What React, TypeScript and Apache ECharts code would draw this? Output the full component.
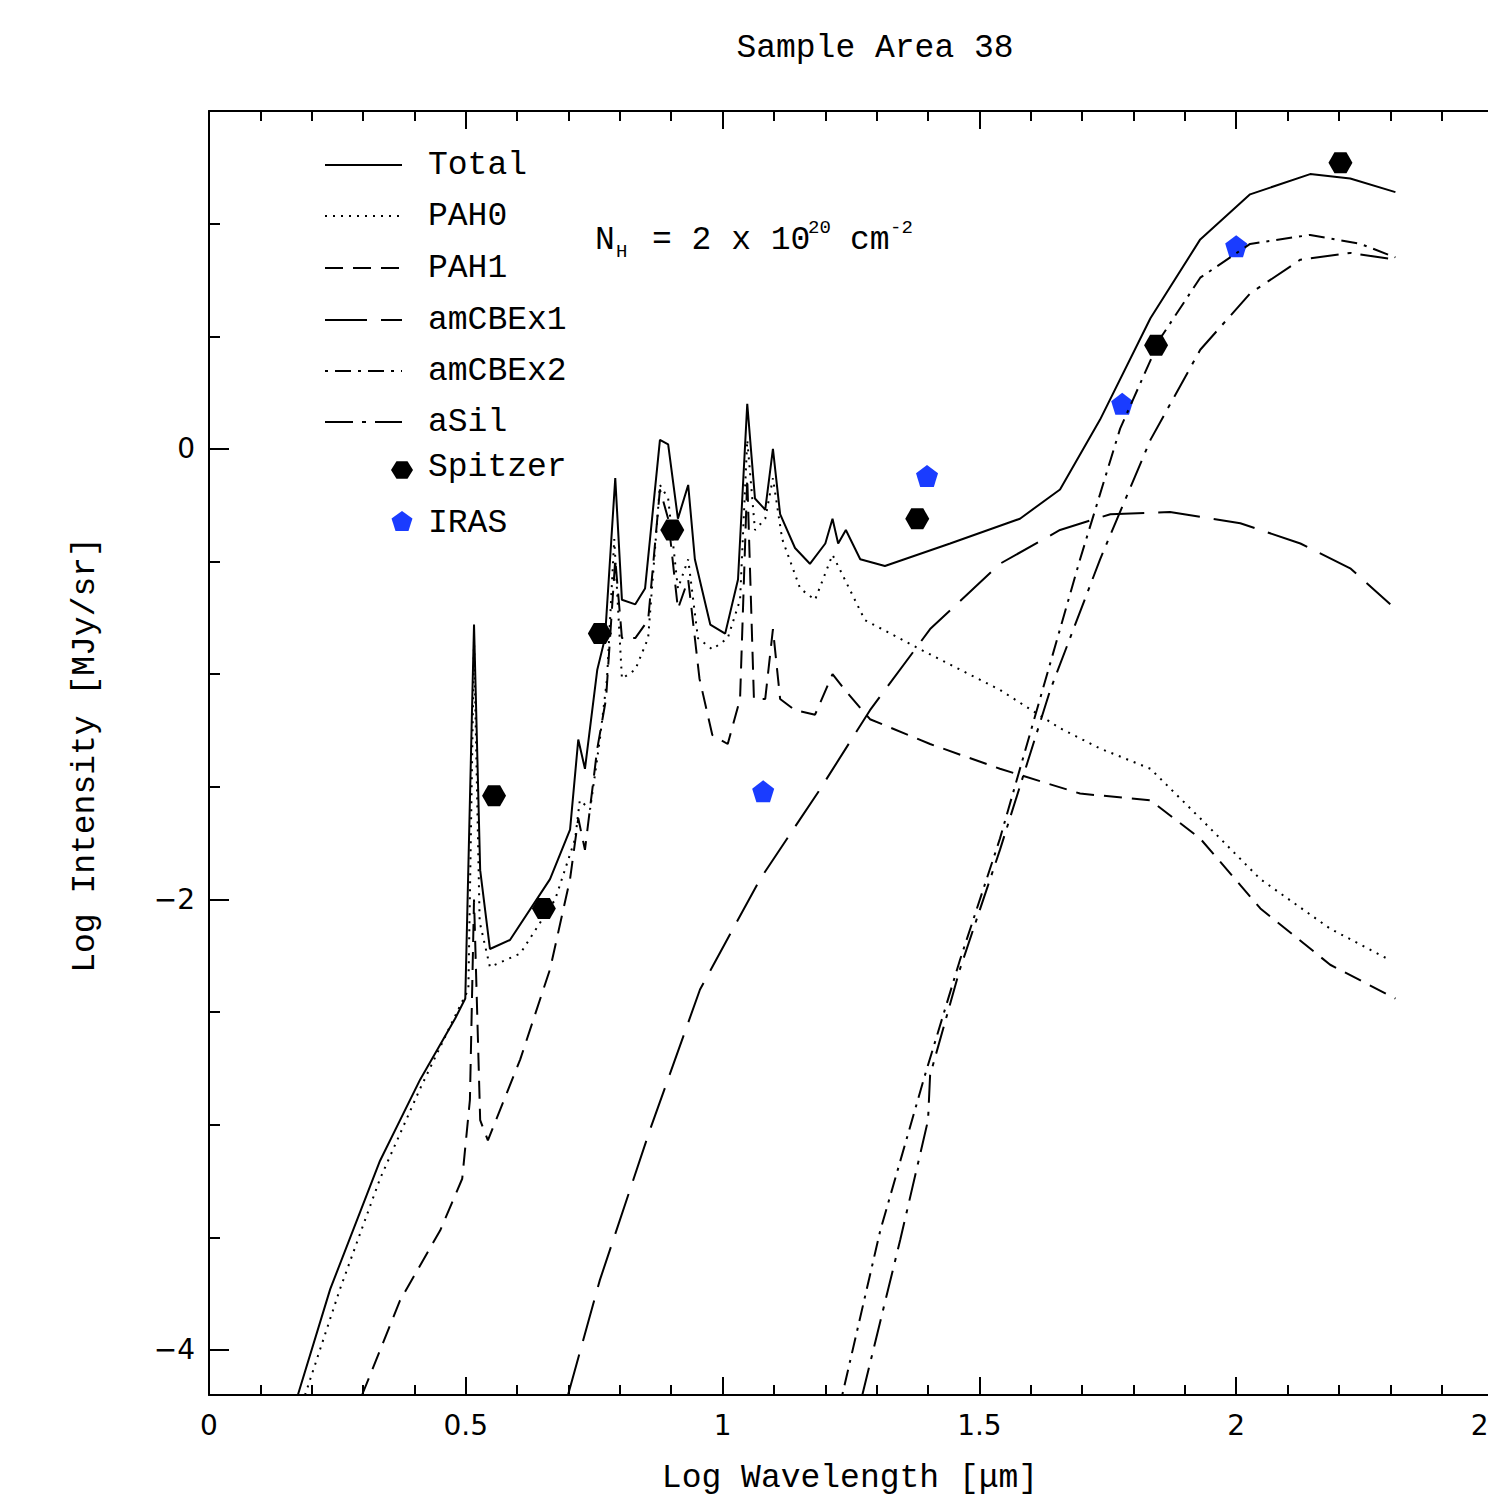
import React, { useRef, useEffect } from "react";
import * as echarts from "echarts";

// [log wavelength, log intensity]
const total = [
  [0.173, -4.2], [0.236, -3.73], [0.333, -3.16], [0.411, -2.8], [0.479, -2.53], [0.499, -2.44],
  [0.516, -0.78], [0.528, -1.87], [0.547, -2.22], [0.586, -2.18], [0.664, -1.91], [0.703, -1.69],
  [0.719, -1.29], [0.732, -1.42], [0.756, -0.98], [0.771, -0.84], [0.791, -0.13], [0.804, -0.67],
  [0.83, -0.69], [0.849, -0.62], [0.878, 0.04], [0.894, 0.02], [0.913, -0.31], [0.933, -0.16],
  [0.946, -0.49], [0.976, -0.78], [1.005, -0.82], [1.03, -0.58], [1.048, 0.2], [1.063, -0.22],
  [1.083, -0.27], [1.098, 0.0], [1.112, -0.29], [1.141, -0.44], [1.17, -0.51], [1.2, -0.42],
  [1.214, -0.31], [1.225, -0.42], [1.24, -0.36], [1.268, -0.49], [1.316, -0.52], [1.443, -0.42],
  [1.579, -0.31], [1.657, -0.18], [1.735, 0.13], [1.833, 0.58], [1.93, 0.93], [2.027, 1.13],
  [2.144, 1.22], [2.222, 1.2], [2.31, 1.14],
];
const pah0 = [
  [0.187, -4.2], [0.255, -3.73], [0.333, -3.24], [0.411, -2.84], [0.485, -2.49], [0.505, -2.4],
  [0.516, -0.85], [0.527, -2.1], [0.547, -2.3], [0.606, -2.24], [0.674, -2.0], [0.713, -1.73],
  [0.722, -1.56], [0.742, -1.6], [0.761, -1.29], [0.775, -1.02], [0.789, -0.4], [0.804, -1.02],
  [0.83, -0.98], [0.855, -0.84], [0.878, -0.16], [0.894, -0.22], [0.913, -0.62], [0.933, -0.49],
  [0.952, -0.84], [0.98, -0.89], [1.01, -0.84], [1.034, -0.67], [1.048, 0.04], [1.063, -0.36],
  [1.083, -0.31], [1.098, -0.13], [1.116, -0.4], [1.151, -0.62], [1.18, -0.67], [1.214, -0.47],
  [1.238, -0.58], [1.277, -0.76], [1.385, -0.89], [1.54, -1.07], [1.657, -1.24], [1.735, -1.33],
  [1.833, -1.42], [1.93, -1.64], [2.047, -1.91], [2.183, -2.13], [2.3, -2.27],
];
const pah1 = [
  [0.298, -4.2], [0.372, -3.78], [0.45, -3.47], [0.493, -3.24], [0.508, -2.89], [0.516, -2.0],
  [0.528, -2.98], [0.543, -3.07], [0.606, -2.71], [0.664, -2.31], [0.703, -1.91], [0.719, -1.64],
  [0.732, -1.78], [0.756, -1.33], [0.773, -1.11], [0.791, -0.49], [0.804, -0.84], [0.83, -0.84],
  [0.855, -0.76], [0.878, -0.18], [0.894, -0.31], [0.913, -0.71], [0.933, -0.58], [0.955, -1.02],
  [0.98, -1.27], [1.01, -1.31], [1.034, -1.11], [1.048, -0.13], [1.061, -1.11], [1.083, -1.11],
  [1.098, -0.8], [1.112, -1.11], [1.141, -1.16], [1.18, -1.18], [1.214, -1.0], [1.238, -1.07],
  [1.287, -1.2], [1.404, -1.31], [1.54, -1.42], [1.696, -1.53], [1.833, -1.56], [1.93, -1.73],
  [2.047, -2.04], [2.183, -2.29], [2.31, -2.44],
];
const amCBEx1 = [
  [0.699, -4.2], [0.761, -3.69], [0.859, -3.02], [0.956, -2.4], [1.073, -1.91], [1.19, -1.51],
  [1.287, -1.16], [1.404, -0.8], [1.54, -0.51], [1.657, -0.36], [1.755, -0.29], [1.871, -0.28],
  [2.008, -0.33], [2.125, -0.42], [2.222, -0.53], [2.3, -0.69],
];
const amCBEx2 = [
  [1.233, -4.2], [1.307, -3.47], [1.394, -2.78], [1.462, -2.27], [1.54, -1.73], [1.618, -1.11],
  [1.696, -0.49], [1.774, 0.09], [1.852, 0.49], [1.93, 0.76], [2.027, 0.91], [2.144, 0.95],
  [2.242, 0.91], [2.31, 0.85],
];
const aSil = [
  [1.272, -4.2], [1.346, -3.51], [1.4, -2.98], [1.404, -2.78], [1.462, -2.31], [1.54, -1.78],
  [1.638, -1.07], [1.735, -0.49], [1.833, 0.04], [1.93, 0.44], [2.027, 0.69], [2.125, 0.84],
  [2.222, 0.87], [2.31, 0.84],
];
const spitzer = [
  [0.555, -1.54], [0.652, -2.04], [0.761, -0.82], [0.902, -0.36], [1.379, -0.31], [1.844, 0.46], [2.203, 1.27],
];
const iras = [
  [1.079, -1.52], [1.398, -0.12], [1.778, 0.2], [2.0, 0.9],
];
const yMajor = [-4, -2, 0];
const yMinor = [-4, -3.5, -3, -2.5, -2, -1.5, -1, -0.5, 0, 0.5, 1, 1.5];

const HEX = "path://M-1,0 L-0.5,-0.866 L0.5,-0.866 L1,0 L0.5,0.866 L-0.5,0.866Z";
const PENT = "path://M0,-1 L0.951,-0.309 L0.588,0.809 L-0.588,0.809 L-0.951,-0.309Z";
const MONO = "Liberation Mono";
const FONT = `33px '${MONO}'`;
const SMALL = `19px '${MONO}'`;

const lines: [string, number[][], number[] | "solid"][] = [
  ["Total", total, "solid"],
  ["PAH0", pah0, [2, 6]],
  ["PAH1", pah1, [18, 10]],
  ["amCBEx1", amCBEx1, [42, 14]],
  ["amCBEx2", amCBEx2, [3, 7, 16, 7]],
  ["aSil", aSil, [28, 9, 4, 9]],
];
const legendY = [165, 216, 268, 320, 371, 422];

const txt = (text: string, x: number, y: number, font = FONT, align = "left") => ({
  type: "text", style: { text, x, y, align, verticalAlign: "middle", font, fill: "#000" },
});

const App: React.FC = () => {
  const ref = useRef<HTMLDivElement | null>(null);
  useEffect(() => {
    document.body.style.margin = "0";
    document.body.style.overflow = "hidden";
    if (!ref.current) return;
    const chart = echarts.init(ref.current, undefined, { renderer: "svg" });
    const graphic: any[] = [
      txt("Sample Area 38", 875, 48, FONT, "center"),
      txt("Log Wavelength [μm]", 850, 1478, FONT, "center"),
      { type: "text", x: 85, y: 755, rotation: Math.PI / 2, style: { text: "Log Intensity [MJy/sr]", align: "center", verticalAlign: "middle", font: FONT, fill: "#000" } },
      txt("N", 595, 240),
      txt("H", 616, 252, SMALL),
      txt("= 2 x 10", 652, 240),
      txt("20", 808, 228, SMALL),
      txt("cm", 850, 240),
      txt("-2", 890, 228, SMALL),
    ];
    lines.forEach(([name, , dash], i) => {
      graphic.push({ type: "line", shape: { x1: 325, y1: legendY[i], x2: 402, y2: legendY[i] }, style: { stroke: "#000", lineWidth: 2, lineDash: dash === "solid" ? null : dash } });
      graphic.push(txt(name, 428, legendY[i]));
    });
    const hex = [0, 1, 2, 3, 4, 5].map((k) => [402 + 11 * Math.cos((k * Math.PI) / 3), 470 + 10 * Math.sin((k * Math.PI) / 3)]);
    const pent = [0, 1, 2, 3, 4].map((k) => [402 + 11 * Math.sin((k * 2 * Math.PI) / 5), 522 - 11 * Math.cos((k * 2 * Math.PI) / 5)]);
    graphic.push({ type: "polygon", shape: { points: hex }, style: { fill: "#000" } });
    graphic.push(txt("Spitzer", 428, 467));
    graphic.push({ type: "polygon", shape: { points: pent }, style: { fill: "#1a3cff" } });
    graphic.push(txt("IRAS", 428, 523));

    const axLine = { show: true, onZero: false, lineStyle: { color: "#000", width: 2 } };
    const xBase = {
      type: "value", min: 0, max: 2.5, interval: 0.5, splitLine: { show: false },
      axisLine: axLine,
      axisTick: { inside: true, length: 18, lineStyle: { color: "#000", width: 2 } },
      minorTick: { show: true, splitNumber: 5, length: 10, lineStyle: { color: "#000", width: 2 } },
    };
    const yBase = { type: "value", min: -4.2, max: 1.5, splitLine: { show: false } };
    const option: any = {
      animation: false,
      grid: { left: 209, top: 111, right: -5, bottom: 112, outerBoundsMode: "none", containLabel: false },
      graphic,
      xAxis: [
        { ...xBase, position: "bottom", axisLabel: { fontFamily: "DejaVu Sans", fontSize: 28, color: "#000", margin: 16, formatter: (v: number) => String(v) } },
        { ...xBase, position: "top", axisLabel: { show: false } },
      ],
      yAxis: [
        {
          ...yBase, position: "left", axisLine: axLine,
          axisTick: { inside: true, length: 20, customValues: yMajor, lineStyle: { color: "#000", width: 2 } },
          axisLabel: { customValues: yMajor, fontFamily: "DejaVu Sans", fontSize: 28, color: "#000", margin: 14, formatter: (v: number) => (v < 0 ? "−" + Math.abs(v) : String(v)) },
        },
        {
          ...yBase, position: "left", axisLine: { show: false },
          axisTick: { inside: true, length: 11, customValues: yMinor, lineStyle: { color: "#000", width: 2 } },
          axisLabel: { show: false },
        },
      ],
      series: [
        ...lines.map(([name, data, dash]) => ({
          name, type: "line", data, showSymbol: false, symbol: "none", clip: true,
          lineStyle: { color: "#000", width: 2, type: dash },
        })),
        { name: "Spitzer", type: "scatter", data: spitzer, symbol: HEX, symbolSize: [24, 21], itemStyle: { color: "#000", opacity: 1 } },
        { name: "IRAS", type: "scatter", data: iras, symbol: PENT, symbolSize: 22, itemStyle: { color: "#1a3cff", opacity: 1 } },
      ],
    };
    chart.setOption(option);
    return () => chart.dispose();
  }, []);
  return <div ref={ref} style={{ width: "1488px", height: "1507px" }} />;
};

export default App;
